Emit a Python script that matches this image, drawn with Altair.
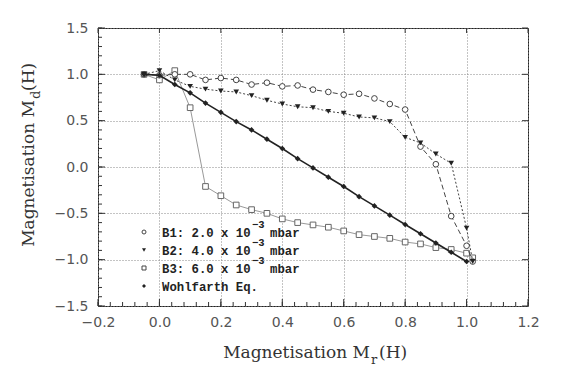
import altair as alt
import pandas as pd

# ---- data ----
x_b = [-0.05, 0.00, 0.05, 0.10, 0.15, 0.20, 0.25, 0.30, 0.35, 0.40, 0.45, 0.50,
       0.55, 0.60, 0.65, 0.70, 0.75, 0.80, 0.85, 0.90, 0.95, 1.00, 1.02]
b1_y = [1.00, 0.99, 1.00, 1.00, 0.94, 0.96, 0.94, 0.89, 0.91, 0.87, 0.88, 0.835,
        0.81, 0.78, 0.79, 0.74, 0.68, 0.62, 0.22, 0.03, -0.53, -0.85, -1.02]
b2_y = [1.00, 1.04, 0.94, 0.87, 0.84, 0.82, 0.81, 0.77, 0.72, 0.68, 0.65, 0.64,
        0.60, 0.58, 0.54, 0.53, 0.49, 0.32, 0.26, 0.14, 0.04, -0.66, -1.02]
b3_y = [1.00, 0.94, 1.04, 0.64, -0.21, -0.31, -0.41, -0.46, -0.50, -0.56, -0.60, -0.625,
        -0.65, -0.69, -0.73, -0.75, -0.77, -0.81, -0.83, -0.87, -0.89, -0.93, -0.98]
x_w = [-0.05, 0.00, 0.05, 0.10, 0.15, 0.20, 0.25, 0.30, 0.35, 0.40, 0.45, 0.50,
       0.55, 0.60, 0.65, 0.70, 0.75, 0.80, 0.85, 0.90, 0.95, 1.00]
w_y = [1.00, 0.99, 0.89, 0.80, 0.69, 0.59, 0.49, 0.40, 0.30, 0.20, 0.09, -0.01,
       -0.11, -0.21, -0.32, -0.42, -0.52, -0.62, -0.72, -0.82, -0.92, -1.02]

legend_main = ["B1: 2.0 x 10", "B2: 4.0 x 10", "B3: 6.0 x 10", "Wohlfarth Eq."]
legend_sup = ["\u22123", "\u22123", "\u22123", ""]
legend_unit = ["mbar", "mbar", "mbar", ""]

x_ticks = [-0.2, 0.0, 0.2, 0.4, 0.6, 0.8, 1.0, 1.2]
y_ticks = [-1.5, -1.0, -0.5, 0.0, 0.5, 1.0, 1.5]

W, H = 430, 278

xs = alt.Scale(domain=[-0.2, 1.2], nice=False, zero=False)
ys = alt.Scale(domain=[-1.5, 1.5], nice=False, zero=False)

axis_common = dict(grid=True, gridDash=[1, 2], gridColor="#888", gridWidth=1,
                   ticks=False, domain=False, labelFont="DejaVu Sans",
                   labelFontSize=14, labelColor="#555", labelOverlap=False,
                   labelFlush=False, title=None, format=".1f")

styles = [
    # x, y, marker shape, filled, marker color, line color, dash, line width
    (x_b, b3_y, "square", False, "#666", "#999", None, 1.0),
    (x_b, b1_y, "circle", False, "#444", "#444", [5, 3], 1.0),
    (x_b, b2_y, "triangle-down", True, "#222", "#444", [2, 2], 1.0),
    (x_w, w_y, "diamond", True, "#222", "#222", None, 1.6),
]

layers = []
first = True
for xv, yv, shape, filled, mcol, lcol, dash, lw in styles:
    df = pd.DataFrame({"x": xv, "y": yv})
    if first:
        xenc = alt.X("x:Q", scale=xs, axis=alt.Axis(values=x_ticks, labelPadding=9, **axis_common))
        yenc = alt.Y("y:Q", scale=ys, axis=alt.Axis(values=y_ticks, labelPadding=10, **axis_common))
        first = False
    else:
        xenc = alt.X("x:Q", scale=xs)
        yenc = alt.Y("y:Q", scale=ys)
    line_kw = dict(color=lcol, strokeWidth=lw)
    if dash:
        line_kw["strokeDash"] = dash
    layers.append(alt.Chart(df).mark_line(**line_kw).encode(x=xenc, y=yenc))
    pt_kw = dict(shape=shape, size=32, opacity=1, strokeWidth=1)
    if filled:
        pt_kw.update(filled=True, color=mcol)
    else:
        pt_kw.update(filled=False, stroke=mcol, fill="white")
    layers.append(alt.Chart(df).mark_point(**pt_kw).encode(x=alt.X("x:Q", scale=xs), y=alt.Y("y:Q", scale=ys)))

# ---- inward ticks (bottom / left / right / top) ----
xminor = [round(-0.2 + 0.04 * i, 2) for i in range(36)]
yminor = [round(-1.5 + 0.1 * i, 2) for i in range(31)]
tick_col = "#333"
layers.append(alt.Chart(pd.DataFrame({"x": xminor})).mark_rule(color=tick_col).encode(
    x=alt.X("x:Q", scale=xs), y=alt.value(H), y2=alt.value(H - 4)))
layers.append(alt.Chart(pd.DataFrame({"x": x_ticks})).mark_rule(color=tick_col).encode(
    x=alt.X("x:Q", scale=xs), y=alt.value(H), y2=alt.value(H - 7)))
layers.append(alt.Chart(pd.DataFrame({"x": x_ticks})).mark_rule(color=tick_col).encode(
    x=alt.X("x:Q", scale=xs), y=alt.value(0), y2=alt.value(5)))
layers.append(alt.Chart(pd.DataFrame({"y": yminor})).mark_rule(color=tick_col).encode(
    y=alt.Y("y:Q", scale=ys), x=alt.value(0), x2=alt.value(4)))
layers.append(alt.Chart(pd.DataFrame({"y": y_ticks})).mark_rule(color=tick_col).encode(
    y=alt.Y("y:Q", scale=ys), x=alt.value(0), x2=alt.value(7)))
layers.append(alt.Chart(pd.DataFrame({"y": y_ticks})).mark_rule(color=tick_col).encode(
    y=alt.Y("y:Q", scale=ys), x=alt.value(W), x2=alt.value(W - 6)))

one = pd.DataFrame({"a": [0]})

def txt(s, x, y, size, font="DejaVu Serif", align="left", angle=0, weight="normal", color="#333"):
    return alt.Chart(one).mark_text(text=s, font=font, fontSize=size, align=align,
                                    baseline="alphabetic", angle=angle, fontWeight=weight,
                                    color=color).encode(x=alt.value(x), y=alt.value(y))

# ---- axis titles with subscripts ----
layers.append(txt("Magnetisation M", 272, 330, 17, align="right"))
layers.append(txt("r", 273, 336, 13))
layers.append(txt("(H)", 281, 330, 17))

layers.append(txt("Magnetisation M", -64, 72, 17, align="right", angle=270))
layers.append(txt("d", -58, 71, 13, align="left", angle=270))
layers.append(txt("(H)", -64, 63, 17, align="left", angle=270))

# ---- legend ----
leg_shapes = [("circle", False), ("triangle-down", True), ("square", False), ("diamond", True)]
row_y = [204, 222, 240, 258]
for i, (shape, filled) in enumerate(leg_shapes):
    kw = dict(shape=shape, size=16, opacity=1, strokeWidth=1)
    if filled:
        kw.update(filled=True, color="#222")
    else:
        kw.update(filled=False, stroke="#444", fill="white")
    layers.append(alt.Chart(one).mark_point(**kw).encode(x=alt.value(46), y=alt.value(row_y[i])))
    layers.append(txt(legend_main[i], 64, row_y[i] + 5, 12.3, font="Liberation Mono", weight="bold", color="#222"))
    if legend_sup[i]:
        layers.append(txt(legend_sup[i], 154, row_y[i] - 4, 10.5, font="Liberation Mono", weight="bold", color="#222"))
        layers.append(txt(legend_unit[i], 172, row_y[i] + 5, 12.3, font="Liberation Mono", weight="bold", color="#222"))

chart = alt.layer(*layers).properties(
    width=W, height=H,
    autosize=alt.AutoSizeParams(type="none"),
    padding={"left": 90, "top": 20, "right": 31, "bottom": 65},
    background="white",
).configure_view(stroke="#222", strokeWidth=1)

chart.save("out.html", embed_options={"renderer": "svg", "actions": False})
